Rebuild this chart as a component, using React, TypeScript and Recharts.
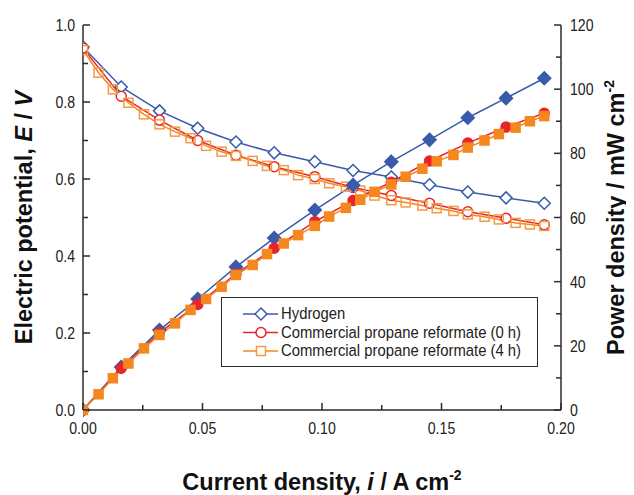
import React from 'react'
import { ComposedChart, Line, XAxis, YAxis, Legend } from 'recharts'

// hydrogen
const h2Current = [0, 0.016, 0.032, 0.048, 0.064, 0.080, 0.097, 0.113, 0.129, 0.145, 0.161, 0.177, 0.193]
const h2Voltage = [0.943, 0.839, 0.777, 0.732, 0.696, 0.668, 0.645, 0.622, 0.605, 0.585, 0.566, 0.551, 0.537]
const h2Power = [0, 13.4, 24.9, 34.6, 44.6, 53.6, 62.3, 70.1, 77.4, 84.2, 91.1, 97.2, 103.4]

// commercial propane reformate (0 h)
const p0Current = [0, 0.016, 0.032, 0.048, 0.064, 0.080, 0.097, 0.113, 0.129, 0.145, 0.161, 0.177, 0.193]
const p0Voltage = [0.94, 0.815, 0.753, 0.700, 0.662, 0.632, 0.606, 0.578, 0.557, 0.537, 0.515, 0.498, 0.481]
const p0Power = [0, 13.0, 24.1, 32.9, 42.4, 50.4, 58.7, 65.3, 71.0, 77.6, 83.2, 88.2, 92.5]

// commercial propane reformate (4 h)
const p4Current = [
  0, 0.0065, 0.0125, 0.019, 0.0255, 0.032, 0.0385, 0.045, 0.0515, 0.058, 0.064,
  0.071, 0.077, 0.084, 0.090, 0.097, 0.103, 0.110, 0.116, 0.122, 0.129,
  0.135, 0.142, 0.148, 0.155, 0.161, 0.168, 0.174, 0.181, 0.187, 0.193,
]
const p4Voltage = [
  0.935, 0.876, 0.833, 0.798, 0.768, 0.742, 0.723, 0.706, 0.686, 0.671, 0.660,
  0.647, 0.634, 0.623, 0.610, 0.600, 0.589, 0.580, 0.570, 0.557, 0.545,
  0.539, 0.531, 0.524, 0.517, 0.508, 0.502, 0.495, 0.486, 0.482, 0.478,
]
const p4Power = [
  0, 4.9, 9.9, 14.5, 19.2, 23.4, 27.0, 31.2, 34.6, 38.4, 42.1,
  45.2, 48.6, 51.9, 54.5, 57.4, 60.3, 63.0, 65.5, 68.0, 70.3,
  72.7, 75.2, 77.5, 79.5, 81.8, 84.0, 86.0, 88.0, 90.0, 91.6,
]

const xTicks = [0, 0.025, 0.05, 0.075, 0.1, 0.125, 0.15, 0.175, 0.2]
const leftTicks = [0, 0.1, 0.2, 0.3, 0.4, 0.5, 0.6, 0.7, 0.8, 0.9, 1.0]
const rightTicks = [0, 10, 20, 30, 40, 50, 60, 70, 80, 90, 100, 110, 120]

const legendNames = [
  'Hydrogen',
  'Commercial propane reformate (0 h)',
  'Commercial propane reformate (4 h)',
]

const BLUE = '#3a5aab'
const RED = '#e8242b'
const ORANGE = '#f5871f'
const ORANGE_LIGHT = '#f49a45'
const AXIS = '#2b2b2b'
const FONT = '"Liberation Sans", Arial, sans-serif'

const rows = (xs: number[], ys: number[]) => xs.map((x, i) => ({ x, y: ys[i] }))

const h2V = rows(h2Current, h2Voltage)
const h2P = rows(h2Current, h2Power)
const p0V = rows(p0Current, p0Voltage)
const p0P = rows(p0Current, p0Power)
const p4V = rows(p4Current, p4Voltage)
const p4P = rows(p4Current, p4Power)

// the original uses a narrow sans, so squeeze the glyphs a bit
const Narrow = ({ x, y, anchor, size, scale, children }: any) => (
  <text
    transform={`translate(${x},${y}) scale(${scale},1)`}
    textAnchor={anchor}
    fontSize={size}
    fontFamily={FONT}
    fill="#222"
  >
    {children}
  </text>
)

// markers
const diamond = (color: string, filled: boolean, r: number) => (props: any) => {
  const { cx, cy, index } = props
  if (cx == null || cy == null) return <g key={index} />
  return (
    <path
      key={index}
      d={`M${cx},${cy - r}L${cx + r},${cy}L${cx},${cy + r}L${cx - r},${cy}Z`}
      fill={filled ? color : '#fff'}
      stroke={color}
      strokeWidth={1.5}
    />
  )
}

const circle = (color: string, filled: boolean) => (props: any) => {
  const { cx, cy, index } = props
  if (cx == null || cy == null) return <g key={index} />
  return <circle key={index} cx={cx} cy={cy} r={5} fill={filled ? color : '#fff'} stroke={color} strokeWidth={1.5} />
}

const square = (color: string, filled: boolean) => (props: any) => {
  const { cx, cy, index } = props
  if (cx == null || cy == null) return <g key={index} />
  return (
    <rect key={index} x={cx - 4.5} y={cy - 4.5} width={9} height={9}
      fill={filled ? color : 'none'} stroke={color} strokeWidth={1.5} />
  )
}

// inward ticks
const BottomTick = (props: any) => {
  const { x, y, payload } = props
  const v = payload.value
  const major = Math.round(v * 1000) % 50 === 0
  return (
    <g>
      <line x1={x} x2={x} y1={y} y2={y - (major ? 7 : 5)} stroke={AXIS} strokeWidth={1.5} />
      {major && <Narrow x={x} y={y + 24} anchor="middle" size={17} scale={0.83}>{v.toFixed(2)}</Narrow>}
    </g>
  )
}

const TopTick = (props: any) => {
  const { x, y, payload } = props
  const major = Math.round(payload.value * 1000) % 50 === 0
  return <line x1={x} x2={x} y1={y} y2={y + (major ? 7 : 5)} stroke={AXIS} strokeWidth={1.5} />
}

const LeftTick = (props: any) => {
  const { x, y, payload } = props
  const v = payload.value
  const major = Math.round(v * 10) % 2 === 0
  return (
    <g>
      <line x1={x} x2={x + (major ? 7 : 5)} y1={y} y2={y} stroke={AXIS} strokeWidth={1.5} />
      {major && <Narrow x={x - 8} y={y + 6} anchor="end" size={17} scale={0.83}>{v.toFixed(1)}</Narrow>}
    </g>
  )
}

const RightTick = (props: any) => {
  const { x, y, payload } = props
  const v = payload.value
  const major = v % 20 === 0
  return (
    <g>
      <line x1={x} x2={x - (major ? 7 : 5)} y1={y} y2={y} stroke={AXIS} strokeWidth={1.5} />
      {major && <Narrow x={x + 9} y={y + 6} anchor="start" size={17} scale={0.83}>{v}</Narrow>}
    </g>
  )
}

const LeftTitle = (props: any) => {
  const { viewBox } = props
  const cx = viewBox.x + 9
  const cy = viewBox.y + viewBox.height / 2
  return (
    <text x={cx} y={cy} transform={`rotate(-90 ${cx} ${cy})`} textAnchor="middle"
      fontSize={23.5} fontWeight="bold" fontFamily={FONT} fill="#111">
      <tspan>Electric potential, </tspan>
      <tspan fontStyle="italic">E</tspan>
      <tspan> / </tspan>
      <tspan fontStyle="italic">V</tspan>
    </text>
  )
}

const RightTitle = (props: any) => {
  const { viewBox } = props
  const cx = viewBox.x + 63
  const cy = viewBox.y + viewBox.height / 2
  return (
    <text x={cx} y={cy} transform={`rotate(-90 ${cx} ${cy})`} textAnchor="middle"
      fontSize={23.5} fontWeight="bold" fontFamily={FONT} fill="#111">
      <tspan>Power density / mW cm</tspan>
      <tspan fontSize={14} dy={-10}>-2</tspan>
    </text>
  )
}

const BottomTitle = (props: any) => {
  const { viewBox } = props
  const cx = viewBox.x + viewBox.width / 2
  const cy = viewBox.y + 80
  return (
    <text x={cx} y={cy} textAnchor="middle" fontSize={23.5} fontWeight="bold" fontFamily={FONT} fill="#111">
      <tspan>Current density, </tspan>
      <tspan fontStyle="italic">i</tspan>
      <tspan> / A cm</tspan>
      <tspan fontSize={14} dy={-10}>-2</tspan>
    </text>
  )
}

const LegendBox = () => {
  const marks = [
    (cx: number, cy: number) => <path d={`M${cx},${cy - 6}L${cx + 6},${cy}L${cx},${cy + 6}L${cx - 6},${cy}Z`} fill="#fff" stroke={BLUE} strokeWidth={1.5} />,
    (cx: number, cy: number) => <circle cx={cx} cy={cy} r={5} fill="#fff" stroke={RED} strokeWidth={1.5} />,
    (cx: number, cy: number) => <rect x={cx - 4.5} y={cy - 4.5} width={9} height={9} fill="#fff" stroke={ORANGE_LIGHT} strokeWidth={1.5} />,
  ]
  const colors = [BLUE, RED, ORANGE]
  return (
    <div style={{ width: 317, height: 70, border: `1.5px solid ${AXIS}`, background: '#fff', boxSizing: 'border-box' }}>
      <svg width={314} height={67} style={{ display: 'block' }}>
        {legendNames.map((name, i) => {
          const cy = 16 + i * 18.5
          return (
            <g key={name}>
              <line x1={21} x2={56} y1={cy} y2={cy} stroke={colors[i]} strokeWidth={1.5} />
              {marks[i](39, cy)}
              <Narrow x={59} y={cy + 5} anchor="start" size={16.5} scale={0.9}>{name}</Narrow>
            </g>
          )
        })}
      </svg>
    </div>
  )
}

export default function App() {
  return (
    <ComposedChart width={626} height={487} margin={{ top: 17, right: 13, bottom: 45, left: 15 }}>
      <XAxis
        xAxisId={0}
        dataKey="x"
        type="number"
        domain={[0, 0.2]}
        ticks={xTicks}
        allowDataOverflow
        height={40}
        tickSize={0}
        tickMargin={0}
        tickLine={false}
        tick={<BottomTick />}
        axisLine={{ stroke: AXIS, strokeWidth: 1.5 }}
        label={<BottomTitle />}
      />
      <XAxis
        xAxisId="top"
        orientation="top"
        dataKey="x"
        type="number"
        domain={[0, 0.2]}
        ticks={xTicks}
        height={0}
        tickSize={0}
        tickMargin={0}
        tickLine={false}
        tick={<TopTick />}
        axisLine={{ stroke: AXIS, strokeWidth: 1.5 }}
      />
      <YAxis
        yAxisId="left"
        type="number"
        domain={[0, 1]}
        ticks={leftTicks}
        width={60}
        tickSize={0}
        tickMargin={0}
        tickLine={false}
        tick={<LeftTick />}
        axisLine={{ stroke: AXIS, strokeWidth: 1.5 }}
        label={<LeftTitle />}
      />
      <YAxis
        yAxisId="right"
        orientation="right"
        type="number"
        domain={[0, 120]}
        ticks={rightTicks}
        width={60}
        tickSize={0}
        tickMargin={0}
        tickLine={false}
        tick={<RightTick />}
        axisLine={{ stroke: AXIS, strokeWidth: 1.5 }}
        label={<RightTitle />}
      />

      <Line data={h2V} dataKey="y" yAxisId="left" stroke={BLUE} strokeWidth={1.5} dot={diamond(BLUE, false, 6)} isAnimationActive={false} />
      <Line data={p0V} dataKey="y" yAxisId="left" stroke={RED} strokeWidth={1.5} dot={circle(RED, false)} isAnimationActive={false} />
      <Line data={p4V} dataKey="y" yAxisId="left" stroke={ORANGE} strokeWidth={1.5} dot={square(ORANGE_LIGHT, false)} isAnimationActive={false} />
      <Line data={h2P} dataKey="y" yAxisId="right" stroke={BLUE} strokeWidth={1.5} dot={diamond(BLUE, true, 6.5)} isAnimationActive={false} />
      <Line data={p0P} dataKey="y" yAxisId="right" stroke={RED} strokeWidth={1.5} dot={circle(RED, true)} isAnimationActive={false} />
      <Line data={p4P} dataKey="y" yAxisId="right" stroke={ORANGE} strokeWidth={1.5} dot={square(ORANGE, true)} isAnimationActive={false} />

      <Legend
        layout="vertical"
        align="center"
        verticalAlign="middle"
        content={<LegendBox />}
        wrapperStyle={{ left: 213, top: 289, width: 317, height: 70 }}
      />
    </ComposedChart>
  )
}
